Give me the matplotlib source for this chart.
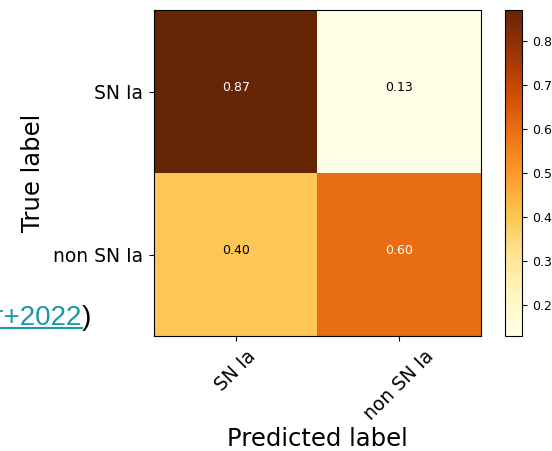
import numpy as np
import matplotlib
matplotlib.use("Agg")
import matplotlib.pyplot as plt
from matplotlib.lines import Line2D

# normalised confusion matrix (rows = true, cols = predicted)
classes = ["SN Ia", "non SN Ia"]
cm = np.array([[0.87, 0.13],
               [0.40, 0.60]])
cbar_ticks = [0.2, 0.3, 0.4, 0.5, 0.6, 0.7, 0.8]

fig = plt.figure(figsize=(5.52, 4.51), dpi=100)
ax = fig.add_axes([154/552, 1 - 336/451, 327/552, 326/451])
cax = fig.add_axes([505/552, 1 - 336/451, 17/552, 326/451])

im = ax.imshow(cm, cmap="YlOrBr", vmin=cm.min(), vmax=cm.max(), aspect="auto")
cb = fig.colorbar(im, cax=cax, ticks=cbar_ticks)
cb.ax.tick_params(labelsize=9)

thresh = (cm.max() + cm.min()) / 2
for i in range(cm.shape[0]):
    for j in range(cm.shape[1]):
        ax.text(j, i - 0.025, "%.2f" % cm[i, j], ha="center", va="center", fontsize=9,
                color="white" if cm[i, j] > thresh else "black")

ax.set_xticks(range(len(classes)))
ax.set_yticks(range(len(classes)))
ax.set_xticklabels(classes, rotation=45, fontsize=13.5)
ax.set_yticklabels(classes, fontsize=13.5)
ax.tick_params(pad=4.5)
ax.set_xlabel("Predicted label", fontsize=17.5, labelpad=2)
ax.set_ylabel("True label", fontsize=17.5, labelpad=5.5)

# citation from the slide, cut at the left edge
link = "#1899a4"
fig.text(82/552, 1 - 325/451, "Möller+2022", ha="right", va="baseline",
         fontsize=20, color=link, family="Liberation Sans")
fig.text(82/552, 1 - 325/451, ")", ha="left", va="baseline",
         fontsize=20, color="black", family="Liberation Sans")
fig.add_artist(Line2D([0, 82/552], [1 - 328/451, 1 - 328/451],
                      color=link, lw=1.5, transform=fig.transFigure))

fig.savefig("out.png", dpi=100)
